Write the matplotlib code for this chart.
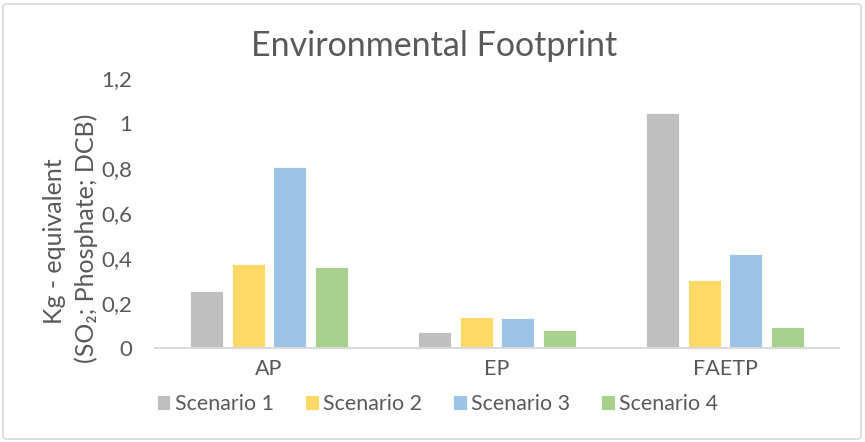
import matplotlib
matplotlib.use("Agg")
import matplotlib.pyplot as plt
from matplotlib.patches import FancyBboxPatch
from matplotlib.ticker import FuncFormatter
import numpy as np

categories = ["AP", "EP", "FAETP"]
series_names = ["Scenario 1", "Scenario 2", "Scenario 3", "Scenario 4"]
scenario1 = [0.253, 0.070, 1.043]
scenario2 = [0.373, 0.138, 0.302]
scenario3 = [0.803, 0.133, 0.418]
scenario4 = [0.361, 0.081, 0.092]
yticks = [0, 0.2, 0.4, 0.6, 0.8, 1.0, 1.2]
colors = ["#BFBFBF", "#FFD966", "#9DC3E6", "#A9D18E"]

plt.rcParams['font.family'] = ['Lato', 'DejaVu Sans']
txt = "#595959"

W, H = 865, 442
fig = plt.figure(figsize=(W/100, H/100), dpi=100)
ax = fig.add_axes([155/W, 1-348/H, (839-155)/W, (348-78)/H])

x = np.arange(len(categories))
slot = 41.5/228
bw = 33/228
data = [scenario1, scenario2, scenario3, scenario4]
for i, (vals, c, name) in enumerate(zip(data, colors, series_names)):
    ax.bar(x + (i-1.5)*slot, vals, width=bw, color=c, label=name,
           edgecolor="white", linewidth=0.6, zorder=2)

ax.set_xlim(-0.5, 2.5)
ax.set_ylim(0, 1.2)
ax.set_yticks(yticks)
ax.yaxis.set_major_formatter(FuncFormatter(lambda v, p: ("%g" % round(v, 1)).replace(".", ",")))
ax.set_xticks(x)
ax.set_xticklabels(categories)
for s in ["top", "right", "left"]:
    ax.spines[s].set_visible(False)
ax.spines["bottom"].set_color("#D9D9D9")
ax.spines["bottom"].set_linewidth(1.5)
ax.tick_params(axis="both", length=0, colors=txt)
ax.tick_params(axis="y", pad=16.5, labelsize=16)
ax.tick_params(axis="x", pad=8, labelsize=15.5)

fig.text(434/W, 1-46/H, "Environmental Footprint", ha="center", va="center",
         fontsize=24.5, color=txt)
fig.text(55/W, 1-241/H, "Kg - equivalent", rotation=90, ha="center", va="center",
         fontsize=18, color=txt)
fig.text(86/W, 1-238/H, "(SO₂; Phosphate; DCB)", rotation=90, ha="center", va="center",
         fontsize=18, color=txt)

leg = fig.legend(loc="center", bbox_to_anchor=(437.5/W, 1-404/H), ncol=4, frameon=False,
                 fontsize=15.4, handlelength=0.65, handleheight=0.65, handletextpad=0.2,
                 columnspacing=1.45, labelcolor=txt, borderpad=0, borderaxespad=0)

border = FancyBboxPatch((3/W, 3/H), (W-7)/W, (H-7)/H, boxstyle="round,pad=0,rounding_size=0.005",
                        transform=fig.transFigure, fill=False, edgecolor="#D9D9D9", linewidth=1.2)
fig.patches.append(border)

fig.savefig("out.png", dpi=100)
